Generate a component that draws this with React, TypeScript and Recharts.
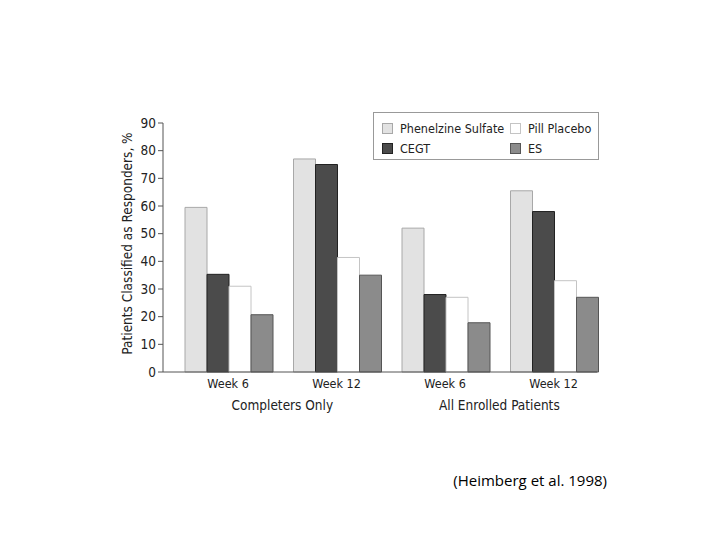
import React from 'react';
import { BarChart, Bar, XAxis, YAxis } from 'recharts';

const weeks = ['Week 6', 'Week 12', 'Week 6', 'Week 12'];
const groups = ['Completers Only', 'Completers Only', 'All Enrolled Patients', 'All Enrolled Patients'];
const phenelzine = [59.5, 77, 52, 65.5];
const cegt = [35.3, 75, 28, 58];
const placebo = [31, 41.4, 27, 33];
const es = [20.7, 35, 17.8, 27];
const yTicks = [0, 10, 20, 30, 40, 50, 60, 70, 80, 90];

const seriesNames = ['Phenelzine Sulfate', 'CEGT', 'Pill Placebo', 'ES'];
const seriesKeys = ['phenelzine', 'cegt', 'placebo', 'es'];
const fills = ['#e2e2e2', '#4b4b4b', '#ffffff', '#8b8b8b'];
const strokes = ['#a8a8a8', '#222222', '#c4c4c4', '#555555'];

const data = weeks.map((w, i) => ({
  week: w,
  group: groups[i],
  spacer: null,
  phenelzine: phenelzine[i],
  cegt: cegt[i],
  placebo: placebo[i],
  es: es[i],
}));

const FONT = "'DejaVu Sans Condensed', 'DejaVu Sans', sans-serif";
const STRETCH = 'condensed';
const SHIFT = 10.85;

const WeekTick = (props: any) => {
  const { x, y, payload } = props;
  return (
    <text x={x + SHIFT} y={y} dy={16} textAnchor="middle" fontFamily={FONT} style={{ fontStretch: STRETCH }} fontSize={12.5} fill="#222">
      {payload.value}
    </text>
  );
};

const GroupTick = (props: any) => {
  const { x, y, payload } = props;
  return (
    <text x={x + SHIFT} y={y} dy={16} textAnchor="middle" fontFamily={FONT} style={{ fontStretch: STRETCH }} fontSize={13.5} fill="#222">
      {payload.value}
    </text>
  );
};

const legendOrder = [0, 2, 1, 3];

export default function App() {
  return (
    <div style={{ position: 'absolute', left: 0, top: 0, width: 720, height: 540, background: '#fff' }}>
      <BarChart
        width={720}
        height={540}
        data={data}
        margin={{ top: 123, right: 123, bottom: 124, left: 91 }}
        barCategoryGap={0}
        barGap={0}
      >
        <XAxis
          dataKey="week"
          xAxisId={0}
          tickLine={false}
          tickSize={0}
          tickMargin={0}
          height={22}
          axisLine={{ stroke: '#555', strokeWidth: 1 }}
          tick={<WeekTick />}
          interval={0}
        />
        <XAxis
          dataKey="group"
          xAxisId="grp"
          allowDuplicatedCategory={false}
          tickLine={false}
          axisLine={false}
          tickSize={0}
          tickMargin={0}
          height={22}
          tick={<GroupTick />}
          interval={0}
        />
        <YAxis
          width={72}
          domain={[0, 90]}
          ticks={yTicks}
          interval={0}
          tickSize={5}
          tickMargin={2}
          axisLine={{ stroke: '#555' }}
          tickLine={{ stroke: '#555' }}
          tick={{ fontFamily: FONT, fontSize: 13.5, fill: '#222', style: { fontStretch: STRETCH } } as any}
          label={{
            value: 'Patients Classified as Responders, %',
            angle: -90,
            position: 'center',
            dy: -4,
            style: { fontFamily: FONT, fontSize: 13.5, fill: '#222', textAnchor: 'middle', fontStretch: STRETCH },
          }}
        />
        <Bar dataKey="spacer" fill="none" isAnimationActive={false} legendType="none" />
        {seriesKeys.map((k, i) => (
          <Bar
            key={k}
            dataKey={k}
            name={seriesNames[i]}
            fill={fills[i]}
            stroke={strokes[i]}
            strokeWidth={1}
            isAnimationActive={false}
          />
        ))}
      </BarChart>
      <div
        style={{
          position: 'absolute',
          left: 373,
          top: 112,
          width: 224,
          height: 46,
          border: '1px solid #999',
          fontFamily: FONT,
          fontStretch: STRETCH,
          fontSize: 12.5,
          color: '#222',
        }}
      >
        {legendOrder.map((si, idx) => {
          const col = idx % 2;
          const row = Math.floor(idx / 2);
          return (
            <div
              key={si}
              style={{
                position: 'absolute',
                left: col === 0 ? 8 : 136,
                top: row === 0 ? 8 : 28,
                display: 'flex',
                alignItems: 'center',
                height: 14,
                whiteSpace: 'nowrap',
              }}
            >
              <span
                style={{
                  display: 'inline-block',
                  width: 9,
                  height: 9,
                  background: fills[si],
                  border: `1px solid ${strokes[si]}`,
                  marginRight: 7,
                }}
              />
              <span>{seriesNames[si]}</span>
            </div>
          );
        })}
      </div>
      <div
        style={{
          position: 'absolute',
          right: 113,
          top: 470,
          fontFamily: "'Open Sans', 'Liberation Sans', sans-serif",
          fontSize: 15,
          color: '#000',
          whiteSpace: 'nowrap',
        }}
      >
        (Heimberg et al. 1998)
      </div>
    </div>
  );
}
